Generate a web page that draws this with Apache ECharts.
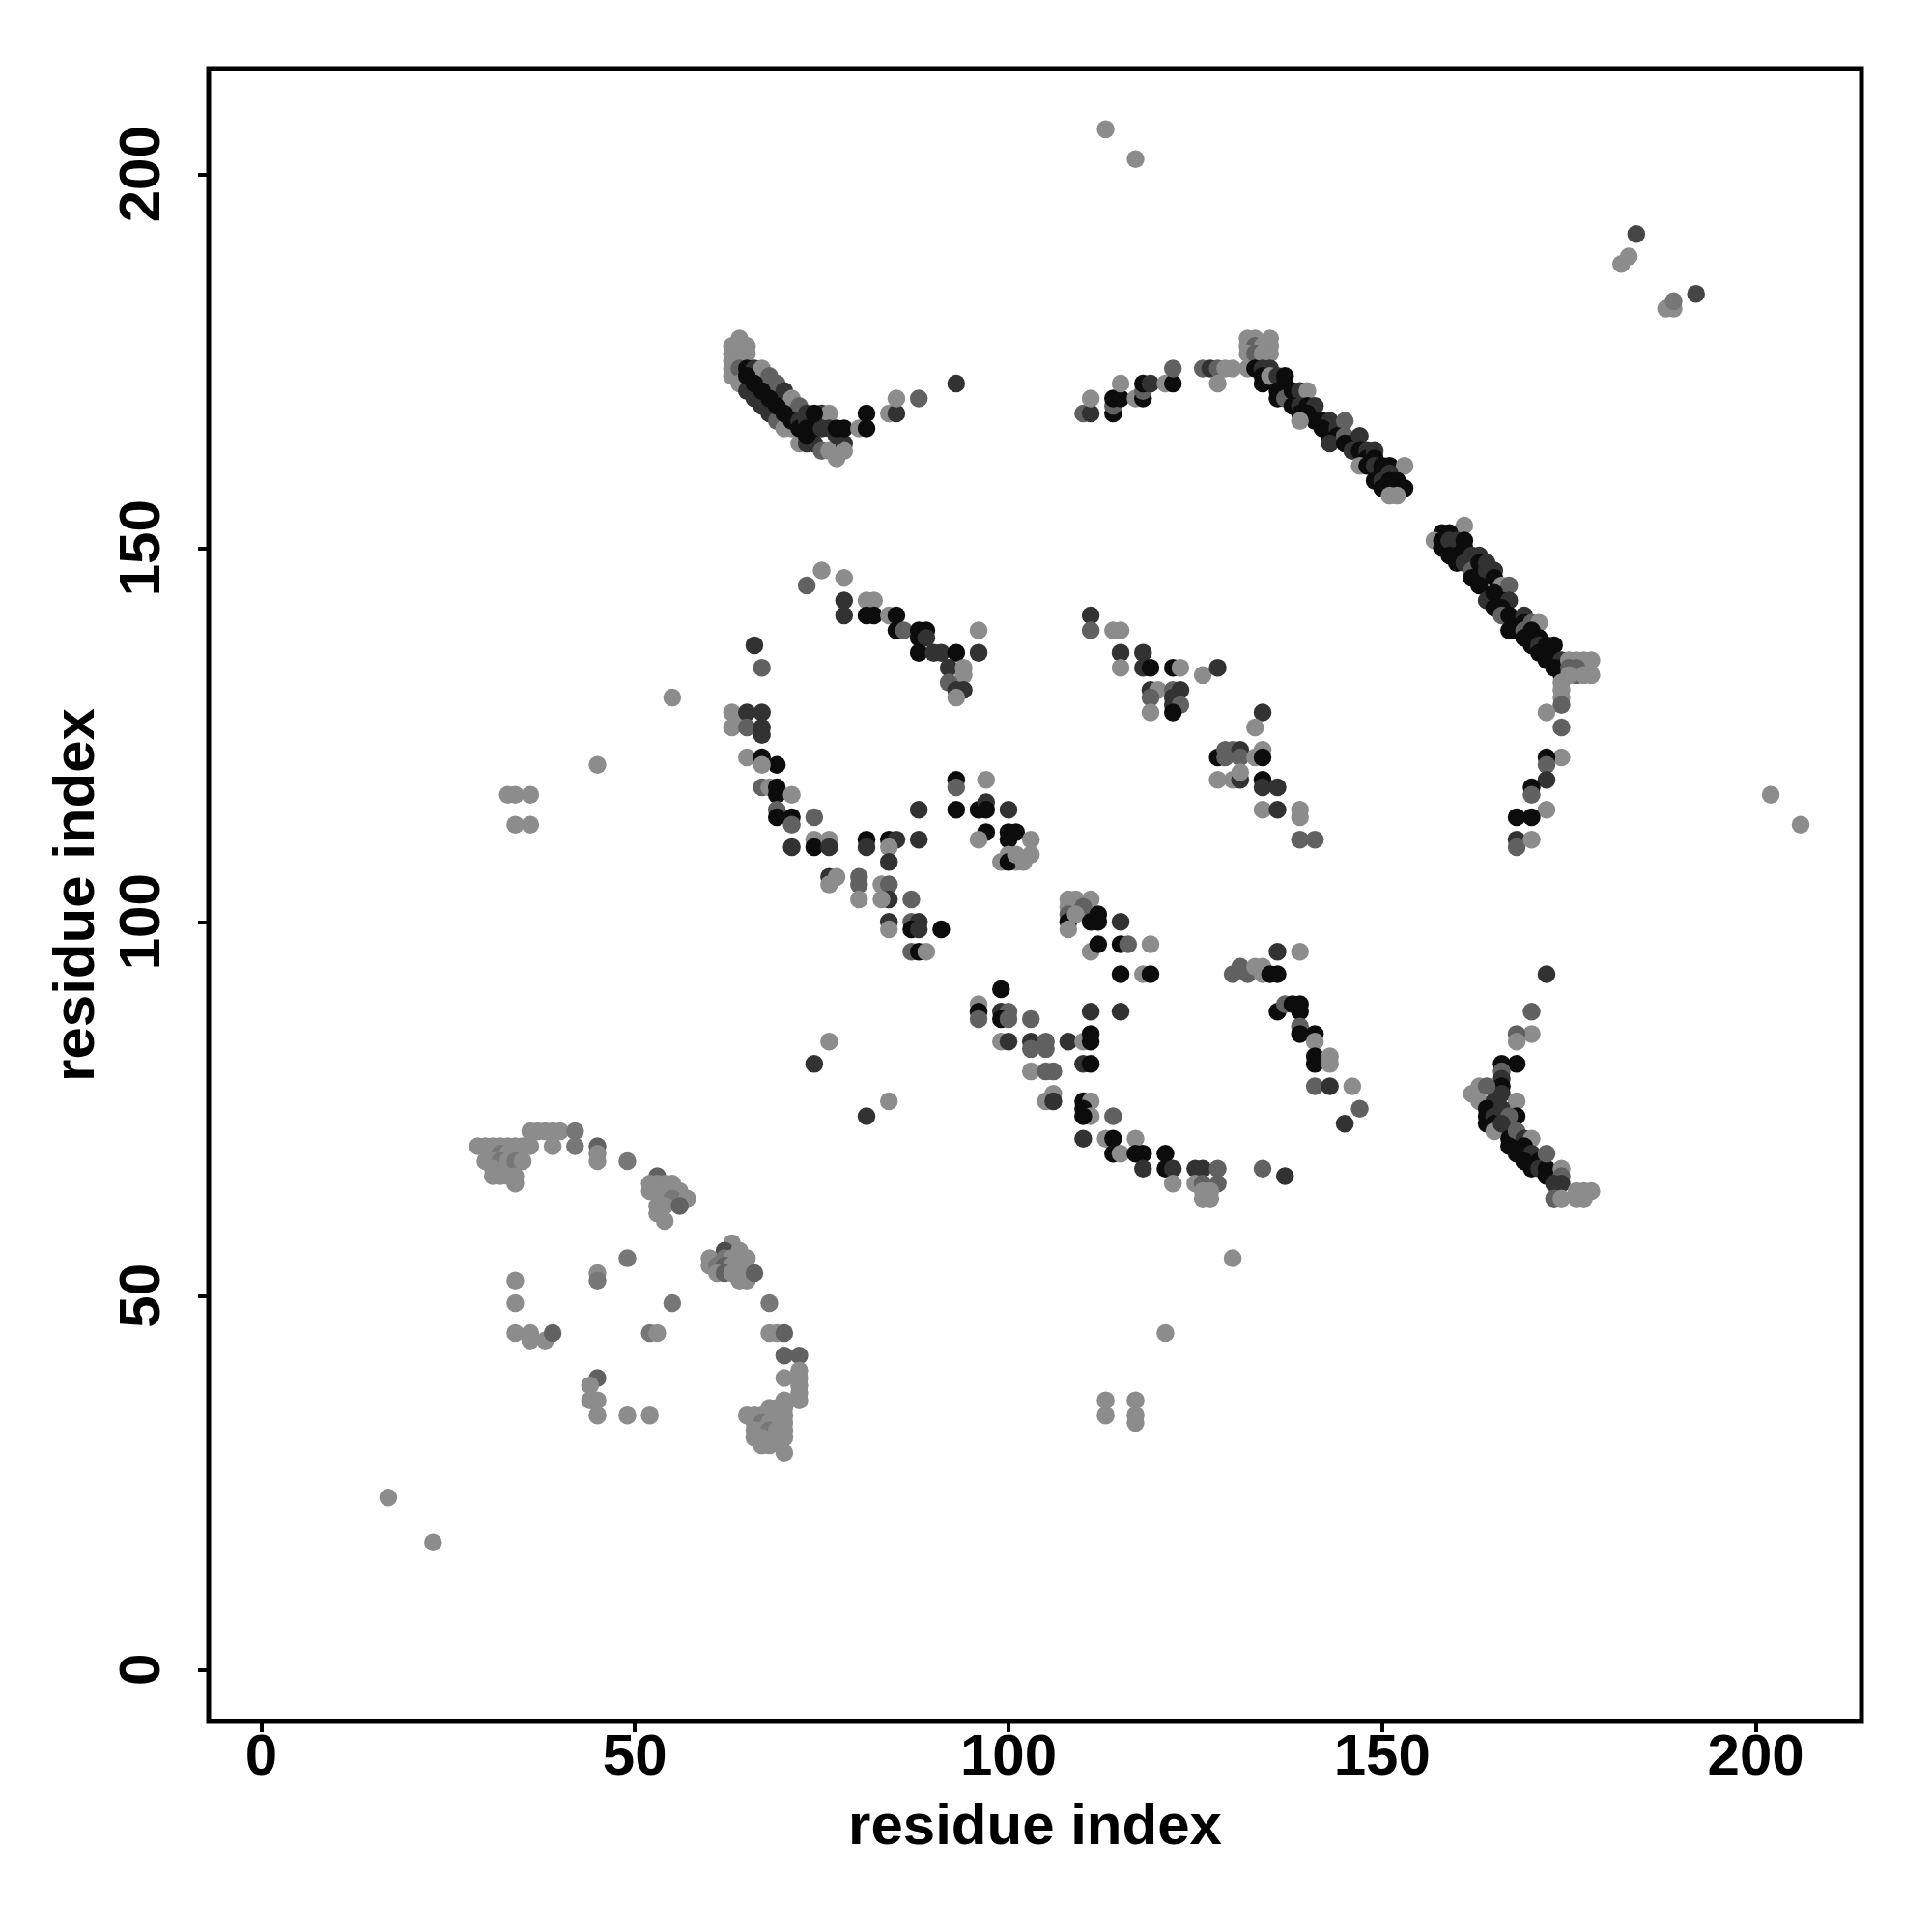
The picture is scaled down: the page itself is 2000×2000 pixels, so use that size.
<!DOCTYPE html>
<html><head><meta charset="utf-8">
<script src="https://cdn.jsdelivr.net/npm/echarts@6/dist/echarts.min.js"></script>
<style>html,body{margin:0;padding:0;background:#fff}#c{width:2000px;height:2000px}</style>
</head><body><div id="c"></div>
<script>
// shade score of each contact (0 = light grey, 1 = black)
const L=0.05, LM=0.2, M=0.35, D=0.68, B=0.95;

const tickValues=[0,50,100,150,200];
const axisTitle='residue index';

const arcTopLeft=[
[64,178,L],[63,177,L],[65,177,L],[64,177,L],[63,176,L],[64,176,L],[65,176,L],[63,175,L],[64,175,L],[63,174,L],[63,173,L],[64,174,M],[65,174,B],[66,174,D],[67,174,L],
[64,172,L],[65,171,D],[66,170,D],[67,169,D],[68,168,D],[69,167,M],[70,166,L],[71,166,L],[72,164,L],[73,164,D],[74,164,D],[75,163,M],[76,163,L],[77,162,L],[78,164,D],[78,163,L],
[68,173,M],[69,172,M],[70,171,D],[71,170,L],[72,169,M],[72,168,M],[73,168,D],[75,168,D],[76,168,L],
[65,173,B],[66,172,B],[67,171,B],[68,170,B],[69,169,B],[70,168,B],[71,167,B],[72,167,D],[72,166,B],[73,165,B],[73,167,D],[73,166,B],[74,166,B],[75,166,D],[76,166,D],[77,165,D],[74,168,B],[77,166,B],[78,166,B],
[80,166,L],[81,168,B],[81,166,B],[84,168,L],[85,168,D],[85,170,L],[88,170,M],[93,172,D]
];

const diagTop=[
[110,168,M],[111,168,D],[111,170,L],[114,168,B],[114,169,M],[114,170,B],[115,170,B],[115,172,L],[117,170,L],[118,170,B],[118,171,M],[118,172,B],[119,172,D],[121,172,L],[122,172,B],[122,174,M],[126,174,M],[127,174,D],[128,174,M],[129,174,L],[130,174,L],[128,172,L],[132,174,L],
[132,178,L],[133,178,L],[135,178,L],[132,177,L],[133,177,M],[134,177,L],[135,177,L],[132,176,L],[133,176,M],[135,176,L],[134,176,L],
[133,174,B],[134,174,D],[135,174,D],[134,173,B],[134,172,B],[135,173,L],[136,173,D],[137,173,B],[137,172,B],[136,171,B],[136,170,B],[137,170,M],[138,171,B],[139,171,D],[140,171,L],[138,169,B],[139,169,D],[140,169,B],[141,169,D],[139,168,B],[140,168,B],[141,167,B],[139,167,L],[142,167,B],[143,167,D],[142,166,B],[143,165,B],[144,166,D],[145,167,M],[144,165,B],[143,164,D],[145,165,M],[145,164,B],[146,164,B],[147,165,D],[146,163,D],[147,163,B],[148,163,D],[148,162,B],[149,163,D],[149,162,B],[147,161,L],[148,161,B],[149,161,D],[150,161,B],[151,161,B],[153,161,L],[150,160,B],[151,160,D],[149,159,B],[150,159,D],[151,159,B],[152,159,B],[150,158,B],[151,158,B],[152,158,B],[153,158,B],[151,157,L],[152,157,L]
];

const diagRight=[
[161,153,L],[158,152,B],[159,152,B],[157,151,L],[158,151,B],[158,150,B],[159,151,D],[160,151,D],[161,151,B],[161,150,B],[160,149,B],[159,149,B],[160,148,B],[161,148,D],[162,149,D],[163,149,D],[162,147,M],[163,148,B],[164,148,D],[162,146,B],[163,146,B],[164,147,D],[165,147,D],[165,146,B],[166,145,L],[167,145,M],[163,145,B],[164,143,D],[165,144,B],[166,143,B],[167,143,D],[165,142,B],[166,142,B],[166,141,M],[167,141,B],[168,140,B],[169,141,D],[169,140,B],[170,140,M],[171,140,L],[167,139,B],[168,139,B],[169,139,M],[170,139,B],[169,138,B],[170,138,B],[171,138,B],[170,137,B],[171,137,D],[172,137,B],[173,137,B],[171,136,B],[172,136,B],[172,135,B],[173,135,B],[174,135,D],[173,134,B],[174,134,B],[174,133,B],
[175,135,L],[176,135,L],[177,135,L],[178,135,L],[175,134,M],[176,134,M],[176,133,M],[177,133,L],[178,133,L],[175,133,L],[174,132,L],[174,131,L],[174,130,L],[174,129,M],[172,128,L],[174,126,M],
[174,122,L],[172,122,B],[172,121,M],[172,119,D],[170,118,B],[170,117,M],[172,115,L],[170,114,B],[168,114,B],[168,111,D],[168,110,M],[170,111,L]
];

const arcMidLeft=[
[63,128,L],[63,126,L],[64,127,L],[65,128,D],[67,128,D],[65,126,M],[67,126,D],[67,125,D],[65,122,L],[67,122,B],[69,121,B],[67,121,L],
[67,118,M],[68,118,L],[69,118,B],[69,117,B],[71,117,L],[69,115,M],[69,114,B],[71,114,B],[71,113,M],[74,114,M],[71,110,D],[74,111,L],[74,110,B],[76,111,L],[76,110,D],[76,106,D],[77,106,L],[76,105,L],[80,106,M],[80,105,M],[80,103,L],
[81,111,B],[81,110,D],[84,111,B],[85,111,D],[84,110,L],[84,108,D],[88,115,D],[88,111,D],[83,105,L],[84,105,M],[84,103,D],[83,103,L],[87,103,M],[84,100,D],[84,99,L],[87,100,M],[88,100,D],[87,99,B],[88,99,D],[91,99,B],[87,96,M],[88,96,B],[89,96,L],
[66,137,D],[67,134,M]
];

const bandUpperLeft=[
[73,145,M],[75,147,L],[78,146,L],[78,143,D],[78,141,D],[81,143,L],[82,143,L],[81,141,B],[82,141,B],[84,141,L],[85,141,B],[85,139,B],[86,139,M],[88,139,B],[89,139,B],[88,138,B],[89,138,D],[88,136,B],[90,136,D],[91,136,D],[93,136,B],[96,139,L],[96,136,D],[92,134,D],[94,134,L],[94,133,L],[92,132,M],[93,131,D],[94,131,D],[93,130,L]
];

const centerBlock=[
[93,119,B],[93,118,M],[97,119,L],[93,115,B],[96,115,B],[97,116,D],[97,115,B],[100,115,D],[97,112,B],[96,111,L],[100,112,B],[101,112,B],[100,111,B],[103,111,L],[100,109,L],[99,108,L],[101,108,L],[100,108,B],[101,109,L],[102,108,L],[103,109,L],
[108,103,L],[109,103,L],[111,103,L],[108,102,L],[110,102,M],[108,101,M],[108,100,B],[109,101,L],[112,101,B],[111,100,B],[112,100,B],[115,100,D],[108,99,L],[111,96,L],[112,97,B],[115,97,B],[116,97,M],[119,97,L],[115,93,B],[118,93,L],[119,93,B]
];

const blockRightUpper=[
[111,141,D],[111,139,M],[114,139,L],[115,139,L],[115,136,D],[115,134,L],[118,136,D],[118,134,D],[119,134,B],[122,134,B],[123,134,L],[126,133,L],[128,134,D],[119,131,D],[120,131,L],[119,130,M],[119,128,L],[122,131,M],[123,131,D],[122,130,D],[122,129,D],[123,129,M],[122,128,B],
[134,128,D],[133,126,L],[128,122,B],[129,123,M],[130,123,M],[131,123,D],[129,122,M],[131,122,M],[133,122,L],[134,123,L],[134,122,B],[128,119,L],[130,119,L],[131,119,D],[131,120,L],[134,119,B],[134,118,D],[136,118,D],[134,115,L],[136,115,D],[139,115,L],[139,114,L],[139,111,M],[141,111,M]
];

const lowerArc=[
[136,96,D],[139,96,L],[130,93,M],[131,94,M],[132,93,M],[133,94,L],[134,94,L],[134,93,L],[135,93,B],[136,93,B],
[136,88,B],[137,89,M],[138,89,B],[139,89,B],[139,88,B],[139,86,M],[141,85,B],[139,85,B],[141,84,L],[141,82,B],[141,81,B],[143,82,L],[143,81,L],[141,78,M],[143,78,D],[146,78,L],[147,75,M],[145,73,D],
[99,91,B],[96,89,L],[96,88,B],[96,87,M],[99,88,D],[100,88,M],[99,87,B],[100,87,M],[103,87,M],[99,84,L],[100,84,D],[103,84,D],[105,84,M],[103,83,M],[105,83,M],[108,84,D],[110,84,L],[111,84,B],[111,85,B],[111,88,D],[115,88,D],
[103,80,L],[105,80,M],[106,80,M],[110,81,D],[111,81,B],[105,76,L],[106,77,L],[106,76,D],[110,76,B],[111,76,L],[110,75,B],[111,74,L],[110,74,B],[114,74,M],[110,71,D],[113,71,L],[114,71,B],[117,71,L],[114,69,B],[115,69,L],[117,69,B],[118,69,B],[118,67,D],[121,69,B],[121,67,B],[122,67,D],[122,65,L],[125,67,D],[126,67,D],[128,67,M],[125,65,L],[126,65,M],[128,65,M],[126,64,L],[127,64,L],[126,63,L],[127,63,L],[134,67,M],[137,66,D],
[76,84,L],[74,81,D],[84,76,L],[81,74,D]
];

const arcLowerRight=[
[172,93,D],[170,88,M],[170,85,L],[168,85,M],[168,84,L],[166,81,B],[168,81,B],[166,80,M],[166,79,D],[166,78,B],[166,77,D],[168,76,L],[168,74,B],
[162,77,L],[163,78,L],[164,78,M],[163,76,L],[165,76,D],[164,75,B],[164,74,B],[164,73,B],[165,74,D],[165,73,B],[166,75,D],[167,74,M],[165,72,L],[166,73,D],[167,71,B],[168,72,M],[169,71,D],[170,71,L],[167,70,B],[168,69,B],[169,70,B],[170,69,D],[169,68,B],[171,68,B],[170,67,B],[171,67,D],[172,67,B],[172,69,M],[172,66,B],[173,66,B],[174,67,L],[174,66,M],[173,65,D],[174,65,D],[173,63,M],[174,63,L],[176,64,L],[177,64,L],[178,64,L],[176,63,L],[177,63,L]
];

const clusterLowerLeft=[
[29,70,L],[30,70,L],[31,70,L],[32,70,L],[33,70,L],[34,70,L],[35,70,L],[31,69,L],[32,69,LM],[33,69,L],[30,68,L],[31,68,L],[32,68,LM],[33,68,L],[34,68,LM],[35,68,L],[31,67,L],[31,66,L],[32,66,L],[33,66,L],[34,66,L],[34,65,L],
[36,72,L],[37,72,L],[38,72,L],[39,72,L],[40,72,L],[42,72,LM],[36,70,L],[39,70,L],[42,70,LM],[45,70,M],[45,69,L],[45,68,L],[49,68,LM],
[53,66,M],[52,65,L],[53,65,L],[54,65,L],[55,65,L],[52,64,L],[53,64,L],[55,64,L],[56,64,L],[54,63,L],[55,63,LM],[57,63,L],[53,62,L],[54,62,L],[56,62,M],[53,61,L],[54,60,L],
[49,55,LM],[63,57,L],[62,56,0.5],[60,55,L],[62,55,LM],[63,55,L],[64,56,L],[64,55,L],[65,55,L],[60,54,L],[61,54,LM],[62,54,M],[63,54,L],[64,54,L],[61,53,L],[62,53,M],[63,53,L],[64,52,L],[65,52,L],[66,53,M],
[34,52,L],[34,49,L],[45,53,L],[45,52,LM],[55,49,LM],[68,49,LM],[34,45,L],[36,45,L],[36,44,L],[38,44,L],[39,45,M],[52,45,LM],[53,45,L],[68,45,L],[69,45,L],[70,45,M],[70,42,M],[72,42,M],[72,40,L],[70,39,L],[72,39,L],[72,38,L],[72,37,L],[72,36,L],
[45,39,M],[44,38,L],[44,36,L],[45,36,L],[45,34,L],[49,34,L],[52,34,L],
[65,34,L],[66,34,L],[67,34,L],[68,35,L],[69,35,L],[70,36,L],[69,34,L],[70,34,L],[70,35,L],[66,33,L],[67,33,LM],[68,33,L],[69,33,L],[70,33,L],[66,32,L],[67,32,L],[68,32,LM],[69,32,L],[70,32,L],[66,31,L],[67,31,L],[69,31,L],[70,31,L],[67,30,L],[68,30,L],[70,29,L],
[17,23,L],[23,17,L]
];

const outliers=[
[113,206,L],[117,202,L],[182,188,L],[183,189,L],[184,192,0.55],[188,182,L],[189,182,L],[189,183,LM],[192,184,0.55],
[202,117,L],[206,113,L],
[55,130,L],[45,121,L],[33,117,L],[34,117,L],[36,117,L],[34,113,L],[36,113,L],
[130,55,L],[121,45,L],[113,36,L],[113,34,L],[117,36,L],[117,34,L],[117,33,L]
];

const allPoints=[].concat(clusterLowerLeft,outliers,arcMidLeft,bandUpperLeft,centerBlock,blockRightUpper,lowerArc,arcLowerRight,arcTopLeft,diagTop,diagRight);

const chart=echarts.init(document.getElementById('c'),null,{renderer:'canvas'});
const font='"Liberation Sans", Arial, Helvetica, sans-serif';
chart.setOption({
  animation:false,
  backgroundColor:'#ffffff',
  grid:{left:216,right:73,top:71,bottom:218,show:true,borderColor:'#000',borderWidth:5,backgroundColor:'transparent'},
  xAxis:{type:'value',min:-7.03,max:214.14,
    splitLine:{show:false},axisLine:{show:false,onZero:false},
    axisTick:{show:true,customValues:tickValues,length:11,lineStyle:{color:'#000',width:4}},
    axisLabel:{customValues:tickValues,fontSize:60,fontWeight:'bold',color:'#000',fontFamily:font,margin:8},
    name:axisTitle,nameLocation:'middle',nameGap:80,
    nameTextStyle:{fontSize:60,fontWeight:'bold',color:'#000',fontFamily:font}},
  yAxis:{type:'value',min:-6.94,max:214.12,
    splitLine:{show:false},axisLine:{show:false,onZero:false},
    axisTick:{show:true,customValues:tickValues,length:11,lineStyle:{color:'#000',width:4}},
    axisLabel:{customValues:tickValues,rotate:90,fontSize:60,fontWeight:'bold',color:'#000',fontFamily:font,margin:38},
    name:axisTitle,nameLocation:'middle',nameGap:106,
    nameTextStyle:{fontSize:60,fontWeight:'bold',color:'#000',fontFamily:font}},
  visualMap:{show:false,type:'continuous',dimension:2,min:0,max:1,inRange:{color:['#939393','#050505']}},
  series:[{type:'scatter',data:allPoints,symbol:'circle',symbolSize:18.5,silent:true,itemStyle:{opacity:1}}]
});
</script>
</body></html>
